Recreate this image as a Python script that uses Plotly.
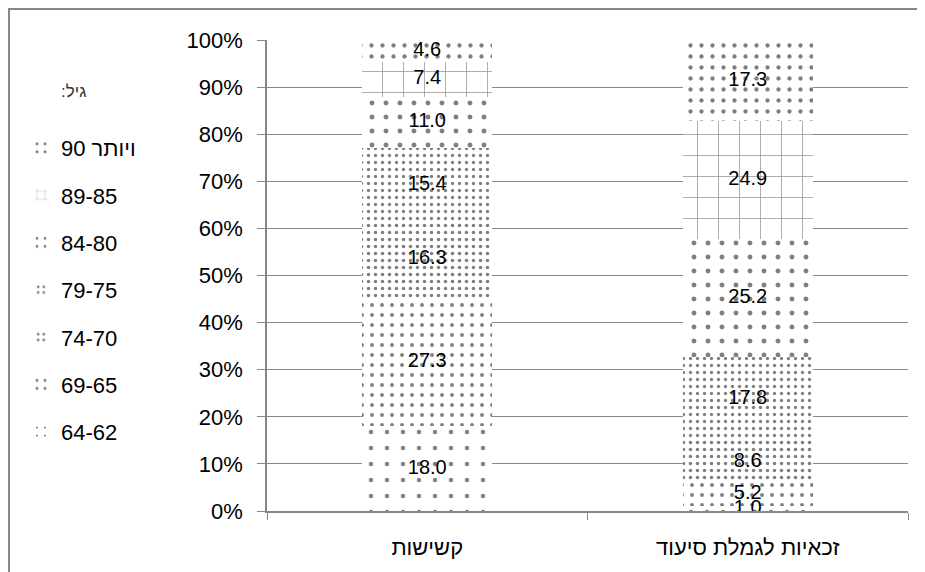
import plotly.graph_objects as go

categories = ["קשישות", "זכאיות לגמלת סיעוד"]
age_groups = ["64-62", "69-65", "74-70", "79-75", "84-80", "89-85", "\u202Bויותר 90\u202C"]
elderly_women = [18.0, 27.3, 16.3, 15.4, 11.0, 7.4, 4.6]
care_benefit_women = [1.0, 5.2, 8.6, 17.8, 25.2, 24.9, 17.3]
legend_title = "\u202Bגיל:\u202C"

patterns = [
    dict(shape=".", size=16, solidity=0.06, fg="#000000"),
    dict(shape=".", size=10, solidity=0.12, fg="#000000"),
    dict(shape=".", size=7, solidity=0.20, fg="#000000"),
    dict(shape=".", size=7, solidity=0.17, fg="#000000"),
    dict(shape=".", size=14, solidity=0.10, fg="#000000"),
    dict(shape="+", size=21, solidity=0.08, fg="#444444"),
    dict(shape=".", size=11, solidity=0.12, fg="#000000"),
]

FONT = "Liberation Sans, Arial"
fig = go.Figure()
series = [elderly_women, care_benefit_women]
n = len(age_groups)
for i, g in enumerate(age_groups):
    vals = [s[i] for s in series]
    p = patterns[i]
    fig.add_trace(go.Bar(
        x=categories, y=vals, name=g, legendgroup=g, legendrank=100 * (n - i),
        marker=dict(color="white", line=dict(width=0),
                    pattern=dict(shape=p["shape"], size=p["size"], solidity=p["solidity"],
                                 fgcolor=p["fg"], bgcolor="white", fillmode="overlay")),
        hoverinfo="skip",
    ))

# value labels at the middle of each stacked segment (computed from the data)
for s, cat in zip(series, categories):
    mids, acc = [], 0.0
    for v in s:
        mids.append(acc + v / 2)
        acc += v
    fig.add_trace(go.Scatter(
        x=[cat] * len(s), y=mids, mode="text",
        text=[f"{v:.1f}" for v in s],
        textfont=dict(color="black", size=20, family=FONT),
        showlegend=False, hoverinfo="skip",
    ))

W, H = 925, 572
L, T = 259, 32
R = W - 900
B = H - 503
pw, ph = W - L - R, H - T - B

fig.update_layout(
    width=W, height=H,
    margin=dict(l=L, r=R, t=T, b=B, autoexpand=False),
    barmode="stack", bargap=0.594,
    paper_bgcolor="white", plot_bgcolor="white",
    font=dict(family=FONT, color="black", size=20),
    legend=dict(
        traceorder="grouped", tracegroupgap=15.7,
        x=(13 - L) / pw, xanchor="left", y=(503 - 119) / ph, yanchor="top",
        font=dict(size=22, family=FONT),
        itemwidth=30, bgcolor="rgba(0,0,0,0)",
    ),
    annotations=[dict(text=legend_title, xref="paper", yref="paper",
                      x=(65 - L) / pw, y=(503 - 84) / ph, xanchor="center", yanchor="middle",
                      showarrow=False, font=dict(size=17, color="#333333", family=FONT))],
    xaxis=dict(
        showline=True, linecolor="#888888", linewidth=1.5,
        ticks="outside", tickson="boundaries", ticklen=7, tickcolor="#888888",
        tickfont=dict(size=22), showgrid=False, ticklabelstandoff=16,
    ),
    yaxis=dict(
        range=[0, 100], dtick=10, ticksuffix="%",
        showgrid=True, gridcolor="#888888", gridwidth=1,
        showline=True, linecolor="#888888", linewidth=1.5,
        ticks="outside", ticklen=8, tickcolor="#888888",
        zeroline=False, tickfont=dict(size=22), ticklabelstandoff=10,
    ),
    shapes=[dict(type="rect", xref="paper", yref="paper",
                 x0=(1 - L) / pw, x1=1.2, y0=-0.3, y1=(503 - 1) / ph,
                 line=dict(color="#888888", width=2), layer="below")],
)

fig.write_html("out.html")
